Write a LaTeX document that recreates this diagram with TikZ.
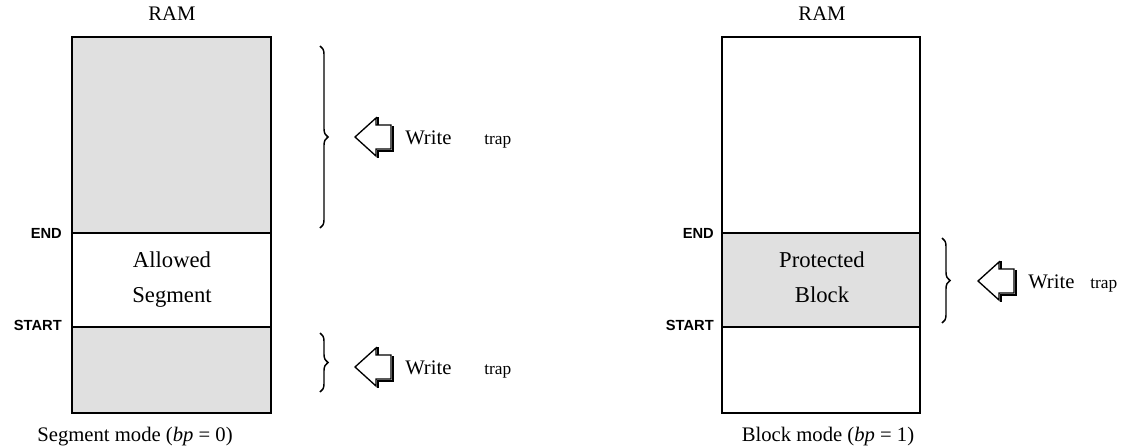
\documentclass[tikz,border=0pt]{standalone}
\usepackage{fontspec}
\setmainfont{Liberation Serif}
\newfontfamily\lsans{Liberation Sans}
\usetikzlibrary{decorations.pathreplacing}
\definecolor{memgray}{HTML}{E0E0E0}
\tikzset{
  membox/.style={draw=black, line width=1.5pt},
  graybox/.style={membox, fill=memgray},
  whitebox/.style={membox, fill=white},
  bound/.style={font=\lsans\bfseries\fontsize{11}{13}\selectfont, anchor=base east, inner sep=0pt},
  serif/.style={font=\fontsize{15.5}{18}\selectfont, inner sep=0pt},
  inlab/.style={font=\fontsize{17}{20}\selectfont, inner sep=0pt, anchor=base},
  traplab/.style={font=\fontsize{13}{15}\selectfont, inner sep=0pt, anchor=base west},
  bracestyle/.style={decorate, decoration={brace, amplitude=6pt}, line width=1.1pt},
}
\newcommand{\hollowarrow}[2]{%
  \begin{scope}[shift={(#1,#2)}]
    \draw[line width=2pt] (38,-11) -- (38,14) -- (23,14) -- (23,21) (21,-19) -- (23,-19) -- (23,-11);
    \draw[line width=1pt, fill=white] (0,0) -- (21,-19) -- (21,-12) -- (36,-12) -- (36,12) -- (21,12) -- (21,19) -- cycle;
  \end{scope}}
\begin{document}
\begin{tikzpicture}[x=0.75pt, y=-0.75pt]
\useasboundingbox (0,0) rectangle (1138,447);
% left memory
\path[graybox] (72,37) rectangle (271,233);
\path[whitebox] (72,233) rectangle (271,327);
\path[graybox] (72,327) rectangle (271,413);
% right memory
\path[whitebox] (722,37) rectangle (920,233);
\path[graybox] (722,233) rectangle (920,327);
\path[whitebox] (722,327) rectangle (920,413);
% titles
\node[serif, anchor=base] (ramL) at (172,20) {RAM};
\node[serif, anchor=base] (ramR) at (822,20) {RAM};
\node[serif, anchor=base] (capL) at (135,441) {Segment mode (\textit{bp} = 0)};
\node[serif, anchor=base] (capR) at (828,441) {Block mode (\textit{bp} = 1)};
% inner labels
\node[inlab] (allow1) at (172,267) {Allowed};
\node[inlab] (allow2) at (172,302) {Segment};
\node[inlab] (prot1) at (822,267) {Protected};
\node[inlab] (prot2) at (822,302) {Block};
% bounds
\node[bound] (endL) at (62,238) {END};
\node[bound] (startL) at (62,330) {START};
\node[bound] (endR) at (714,238) {END};
\node[bound] (startR) at (714,330) {START};
% braces
\draw[bracestyle] (320,46) -- (320,228);
\draw[bracestyle] (320,333) -- (320,392);
\draw[bracestyle] (942,238) -- (942,323);
% arrows and labels
\hollowarrow{355}{137}
\node[serif, anchor=base west] (w1) at (405,144) {Write};
\node[traplab] (t1) at (484,144) {trap};
\hollowarrow{355}{367}
\node[serif, anchor=base west] (w2) at (405,374) {Write};
\node[traplab] (t2) at (484,374) {trap};
\hollowarrow{978}{281}
\node[serif, anchor=base west] (w3) at (1028,288) {Write};
\node[traplab] (t3) at (1090,288) {trap};
\end{tikzpicture}
\end{document}
